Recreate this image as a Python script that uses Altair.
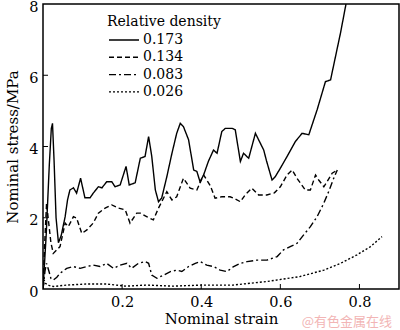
import altair as alt
import pandas as pd

# ---- data ----
s173_x = [0, 0.008, 0.016, 0.021, 0.024, 0.028, 0.033, 0.039, 0.046, 0.056, 0.062, 0.068, 0.077, 0.085, 0.095,
          0.106, 0.119, 0.127, 0.14, 0.149, 0.161, 0.174, 0.182, 0.195, 0.21, 0.218, 0.233, 0.246, 0.258, 0.267,
          0.275, 0.284, 0.292, 0.30, 0.313, 0.326, 0.338, 0.347, 0.355, 0.368, 0.381, 0.389, 0.397, 0.406, 0.418,
          0.431, 0.44, 0.452, 0.461, 0.478, 0.486, 0.499, 0.507, 0.52, 0.537, 0.558, 0.565, 0.579, 0.587, 0.60,
          0.617, 0.638, 0.655, 0.672, 0.693, 0.714, 0.727, 0.743, 0.752, 0.766]
s173_y = [0, 1.5, 3.5, 4.5, 4.65, 3.6, 2.0, 1.3, 1.5, 2.03, 2.5, 2.78, 2.84, 2.69, 3.11,
          2.56, 2.56, 2.69, 2.87, 2.84, 3.01, 3.01, 2.87, 2.92, 3.44, 2.92, 2.98, 3.67, 3.72, 4.28,
          3.72, 2.78, 2.45, 2.55, 3.15, 3.81, 4.37, 4.65, 4.56, 4.19, 3.34, 3.30, 3.01, 3.20, 3.58,
          3.90, 3.81, 4.42, 4.51, 4.51, 4.47, 3.58, 3.81, 3.67, 4.37, 3.90, 3.6, 3.06, 3.15, 3.39,
          3.72, 4.14, 4.37, 4.33, 5.03, 5.82, 5.87, 6.71, 7.18, 8.0]

s134_x = [0, 0.004, 0.009, 0.013, 0.02, 0.026, 0.035, 0.043, 0.056, 0.064, 0.077, 0.085, 0.098, 0.111, 0.127,
          0.14, 0.157, 0.174, 0.191, 0.208, 0.22, 0.237, 0.246, 0.262, 0.279, 0.292, 0.313, 0.326, 0.338, 0.355,
          0.372, 0.389, 0.406, 0.414, 0.423, 0.435, 0.452, 0.473, 0.482, 0.499, 0.511, 0.528, 0.545, 0.566, 0.585,
          0.60, 0.617, 0.63, 0.642, 0.651, 0.663, 0.676, 0.689, 0.697, 0.71, 0.718, 0.731, 0.744]
s134_y = [0, 1.2, 2.41, 2.0, 1.3, 1.0, 1.1, 1.19, 1.85, 1.75, 2.03, 1.99, 1.56, 1.66, 1.85,
          2.13, 2.27, 2.36, 2.27, 2.22, 1.85, 2.13, 2.13, 2.03, 1.94, 2.27, 2.73, 2.5, 2.59, 3.11,
          2.83, 2.78, 3.20, 3.06, 2.9, 2.55, 2.59, 2.59, 2.55, 2.45, 2.64, 2.83, 2.64, 2.64, 2.7,
          2.87, 3.20, 3.34, 3.11, 2.97, 2.78, 2.78, 3.20, 3.06, 2.87, 3.01, 3.25, 3.34]

s083_x = [0, 0.005, 0.009, 0.015, 0.02, 0.026, 0.035, 0.043, 0.06, 0.077, 0.094, 0.111, 0.127, 0.144, 0.161,
          0.178, 0.195, 0.212, 0.224, 0.241, 0.258, 0.267, 0.275, 0.288, 0.305, 0.322, 0.338, 0.351, 0.368, 0.385,
          0.397, 0.414, 0.431, 0.448, 0.465, 0.482, 0.499, 0.516, 0.541, 0.566, 0.592, 0.608, 0.625, 0.642, 0.659,
          0.676, 0.693, 0.71, 0.722, 0.735, 0.744]
s083_y = [0, 0.5, 0.72, 0.5, 0.3, 0.25, 0.33, 0.44, 0.58, 0.63, 0.58, 0.63, 0.67, 0.63, 0.72,
          0.58, 0.67, 0.72, 0.58, 0.72, 0.77, 0.72, 0.39, 0.30, 0.39, 0.49, 0.53, 0.49, 0.63, 0.72,
          0.77, 0.67, 0.63, 0.53, 0.49, 0.63, 0.72, 0.77, 0.81, 0.81, 0.91, 1.10, 1.19, 1.28, 1.52,
          1.75, 2.03, 2.41, 2.73, 3.11, 3.34]

s026_x = [0, 0.003, 0.006, 0.015, 0.026, 0.06, 0.11, 0.16, 0.21, 0.26, 0.33, 0.40, 0.48, 0.566, 0.65,
          0.71, 0.752, 0.794, 0.828, 0.857]
s026_y = [0, 0.25, 0.16, 0.1, 0.07, 0.11, 0.14, 0.14, 0.08, 0.11, 0.08, 0.11, 0.11, 0.21, 0.35,
          0.53, 0.72, 0.96, 1.19, 1.47]

series_names = ["0.173", "0.134", "0.083", "0.026"]
dash_styles = [[1, 0], [5, 3], [7, 3, 2, 3], [2, 2]]

x_tick_values = [0.2, 0.4, 0.6, 0.8]
y_tick_values = [0, 2, 4, 6, 8]
y_inner_ticks = [2, 4, 6]

# ---- build table ----
rows = []
for name, xs, ys in zip(series_names,
                        [s173_x, s134_x, s083_x, s026_x],
                        [s173_y, s134_y, s083_y, s026_y]):
    for i, (a, b) in enumerate(zip(xs, ys)):
        rows.append({"strain": a, "stress": b, "density": name, "order": i})
df = pd.DataFrame(rows)

FONT = "DejaVu Serif"
W, H = 356, 285

xscale = alt.Scale(domain=[0, 0.9], nice=False, zero=False)
yscale = alt.Scale(domain=[0, 8], nice=False)

lines = alt.Chart(df).mark_line(color="black", strokeWidth=1.4, clip=True).encode(
    x=alt.X("strain:Q", scale=xscale,
            axis=alt.Axis(values=x_tick_values, title="Nominal strain", format=".1f",
                          tickSize=0, domain=False, grid=False, labelPadding=6, titlePadding=3,
                          labelFont=FONT, titleFont=FONT, labelFontSize=14.5, titleFontSize=15)),
    y=alt.Y("stress:Q", scale=yscale,
            axis=alt.Axis(values=y_tick_values, title="Nominal stress/MPa", format="d",
                          tickSize=0, domain=False, grid=False, labelPadding=5, titlePadding=8,
                          labelOffset=3,
                          labelFont=FONT, titleFont=FONT, labelFontSize=14.5, titleFontSize=15)),
    strokeDash=alt.StrokeDash("density:N",
                              scale=alt.Scale(domain=series_names, range=dash_styles),
                              legend=alt.Legend(title="Relative density", orient="none",
                                                legendX=64, legendY=11,
                                                symbolType="M-1,0L5,0", symbolSize=100,
                                                symbolStrokeWidth=1.4, symbolStrokeColor="black",
                                                rowPadding=3.3, labelOffset=22, titlePadding=4,
                                                titleFont=FONT, labelFont=FONT,
                                                titleFontSize=14, labelFontSize=14)),
    order="order:Q",
)

xt = alt.Chart(pd.DataFrame({"v": x_tick_values})).mark_rule(color="black", strokeWidth=1).encode(
    x=alt.X("v:Q", scale=xscale), y=alt.value(H), y2=alt.value(H - 5))
yt = alt.Chart(pd.DataFrame({"v": y_inner_ticks})).mark_rule(color="black", strokeWidth=1).encode(
    y=alt.Y("v:Q", scale=yscale), x=alt.value(0), x2=alt.value(5))

wm = alt.Chart(pd.DataFrame({"t": ["@有色金属在线"]})).mark_text(
    font="Noto Sans CJK SC", fontSize=13, color="#f2b5b5", align="right", baseline="middle"
).encode(text="t:N", x=alt.value(W - 7), y=alt.value(318))

chart = alt.layer(lines, xt, yt, wm).properties(
    width=W, height=H,
    autosize=alt.AutoSizeParams(type="none"),
    padding={"left": 43, "top": 4, "right": 1, "bottom": 41},
).configure_view(
    stroke="black", strokeWidth=1.5
).configure_axis(
    labelColor="black", titleColor="black", titleFontWeight="normal"
).configure_legend(
    titleFontWeight="normal", titleColor="black", labelColor="black"
)

chart.save("out.html", embed_options={"renderer": "svg", "actions": False})
